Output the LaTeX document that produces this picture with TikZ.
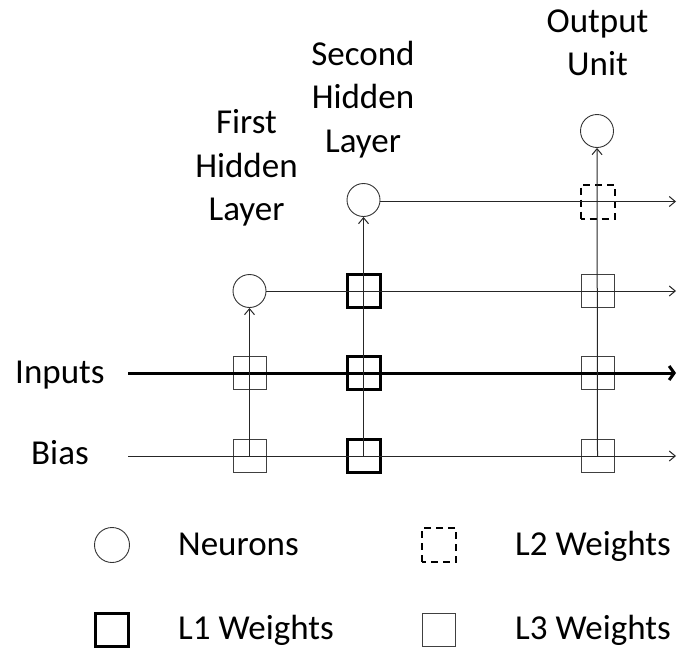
\documentclass[tikz,border=0pt]{standalone}
\usepackage{fontspec}
\setmainfont{Carlito}
\usetikzlibrary{arrows.meta}
\begin{document}
\begin{tikzpicture}[x=1pt,y=-1pt,
  neuron/.style={circle,draw=black!80,line width=0.9pt,minimum size=33pt,inner sep=0pt},
  wthree/.style={draw=black!75,line width=1pt,minimum size=33pt,inner sep=0pt},
  wone/.style={draw=black,line width=3pt,minimum size=33pt,inner sep=0pt},
  wtwo/.style={draw=black,line width=2pt,dash pattern=on 7pt off 5pt,dash phase=3pt,minimum size=34pt,inner sep=0pt},
  lbl/.style={font=\fontsize{35}{43}\selectfont,inner sep=0pt,anchor=base},
  lblw/.style={lbl,anchor=base west},
  link/.style={draw=black!85,line width=1pt,-{Straight Barb[length=6pt,width=10pt]}},
  thicklink/.style={draw=black,line width=3pt,-{Straight Barb[length=5pt,width=14pt]}}
]
\useasboundingbox (0,0) rectangle (677,653);

% column labels
\node[lbl] (t1a) at (246.5,133) {First};
\node[lbl] (t1b) at (246.5,177) {Hidden};
\node[lbl] (t1c) at (246.5,220.5) {Layer};
\node[lbl] (t2a) at (363,65) {Second};
\node[lbl] (t2b) at (363,108.5) {Hidden};
\node[lbl] (t2c) at (363,152) {Layer};
\node[lbl] (t3a) at (597.5,32.5) {Output};
\node[lbl] (t3b) at (597.5,75.5) {Unit};

% row labels
\node[lblw] (tin) at (15,383) {Inputs};
\node[lblw] (tbi) at (31,464) {Bias};

% neurons
\node[neuron] (h1) at (249.5,291) {};
\node[neuron] (h2) at (363.5,200) {};
\node[neuron] (o)  at (597,131) {};

% weights
\node[wthree] (a3) at (249.5,373) {};
\node[wthree] (a4) at (249.5,456) {};
\node[wone] (b2) at (363.5,291) {};
\node[wone] (b3) at (363.5,373) {};
\node[wone] (b4) at (363.5,456) {};
\node[wtwo] (c1) at (597.5,201.5) {};
\node[wthree] (c2) at (597.5,291) {};
\node[wthree] (c3) at (597.5,373) {};
\node[wthree] (c4) at (597.5,456) {};

% row endpoints
\coordinate (inS) at (128,373);
\coordinate (inE) at (676,373);
\coordinate (biS) at (128,456);
\coordinate (biE) at (676,456);
\coordinate (r1E) at (676,291);
\coordinate (r2E) at (676,201.5);

% horizontal connectors
\draw[thicklink] (inS) -- (inE);
\draw[link] (biS) -- (biE);
\draw[link] (h1) -- (r1E);
\draw[link] (h2.east |- r2E) -- (r2E);

% vertical connectors
\draw[link] (a4.center) -- (h1);
\draw[link] (b4.center) -- (h2);
\draw[link] (c4.center) -- (o);

% legend
\node[neuron,minimum size=35pt] (ln) at (112,545) {};
\node[lblw] (lnt) at (178,555) {Neurons};
\node[wtwo] (l2) at (439,545) {};
\node[lblw] (l2t) at (515,555) {L2 Weights};
\node[wone] (l1) at (112,630) {};
\node[lblw] (l1t) at (178,639) {L1 Weights};
\node[wthree] (l3) at (439,630) {};
\node[lblw] (l3t) at (515,639) {L3 Weights};
\end{tikzpicture}
\end{document}
